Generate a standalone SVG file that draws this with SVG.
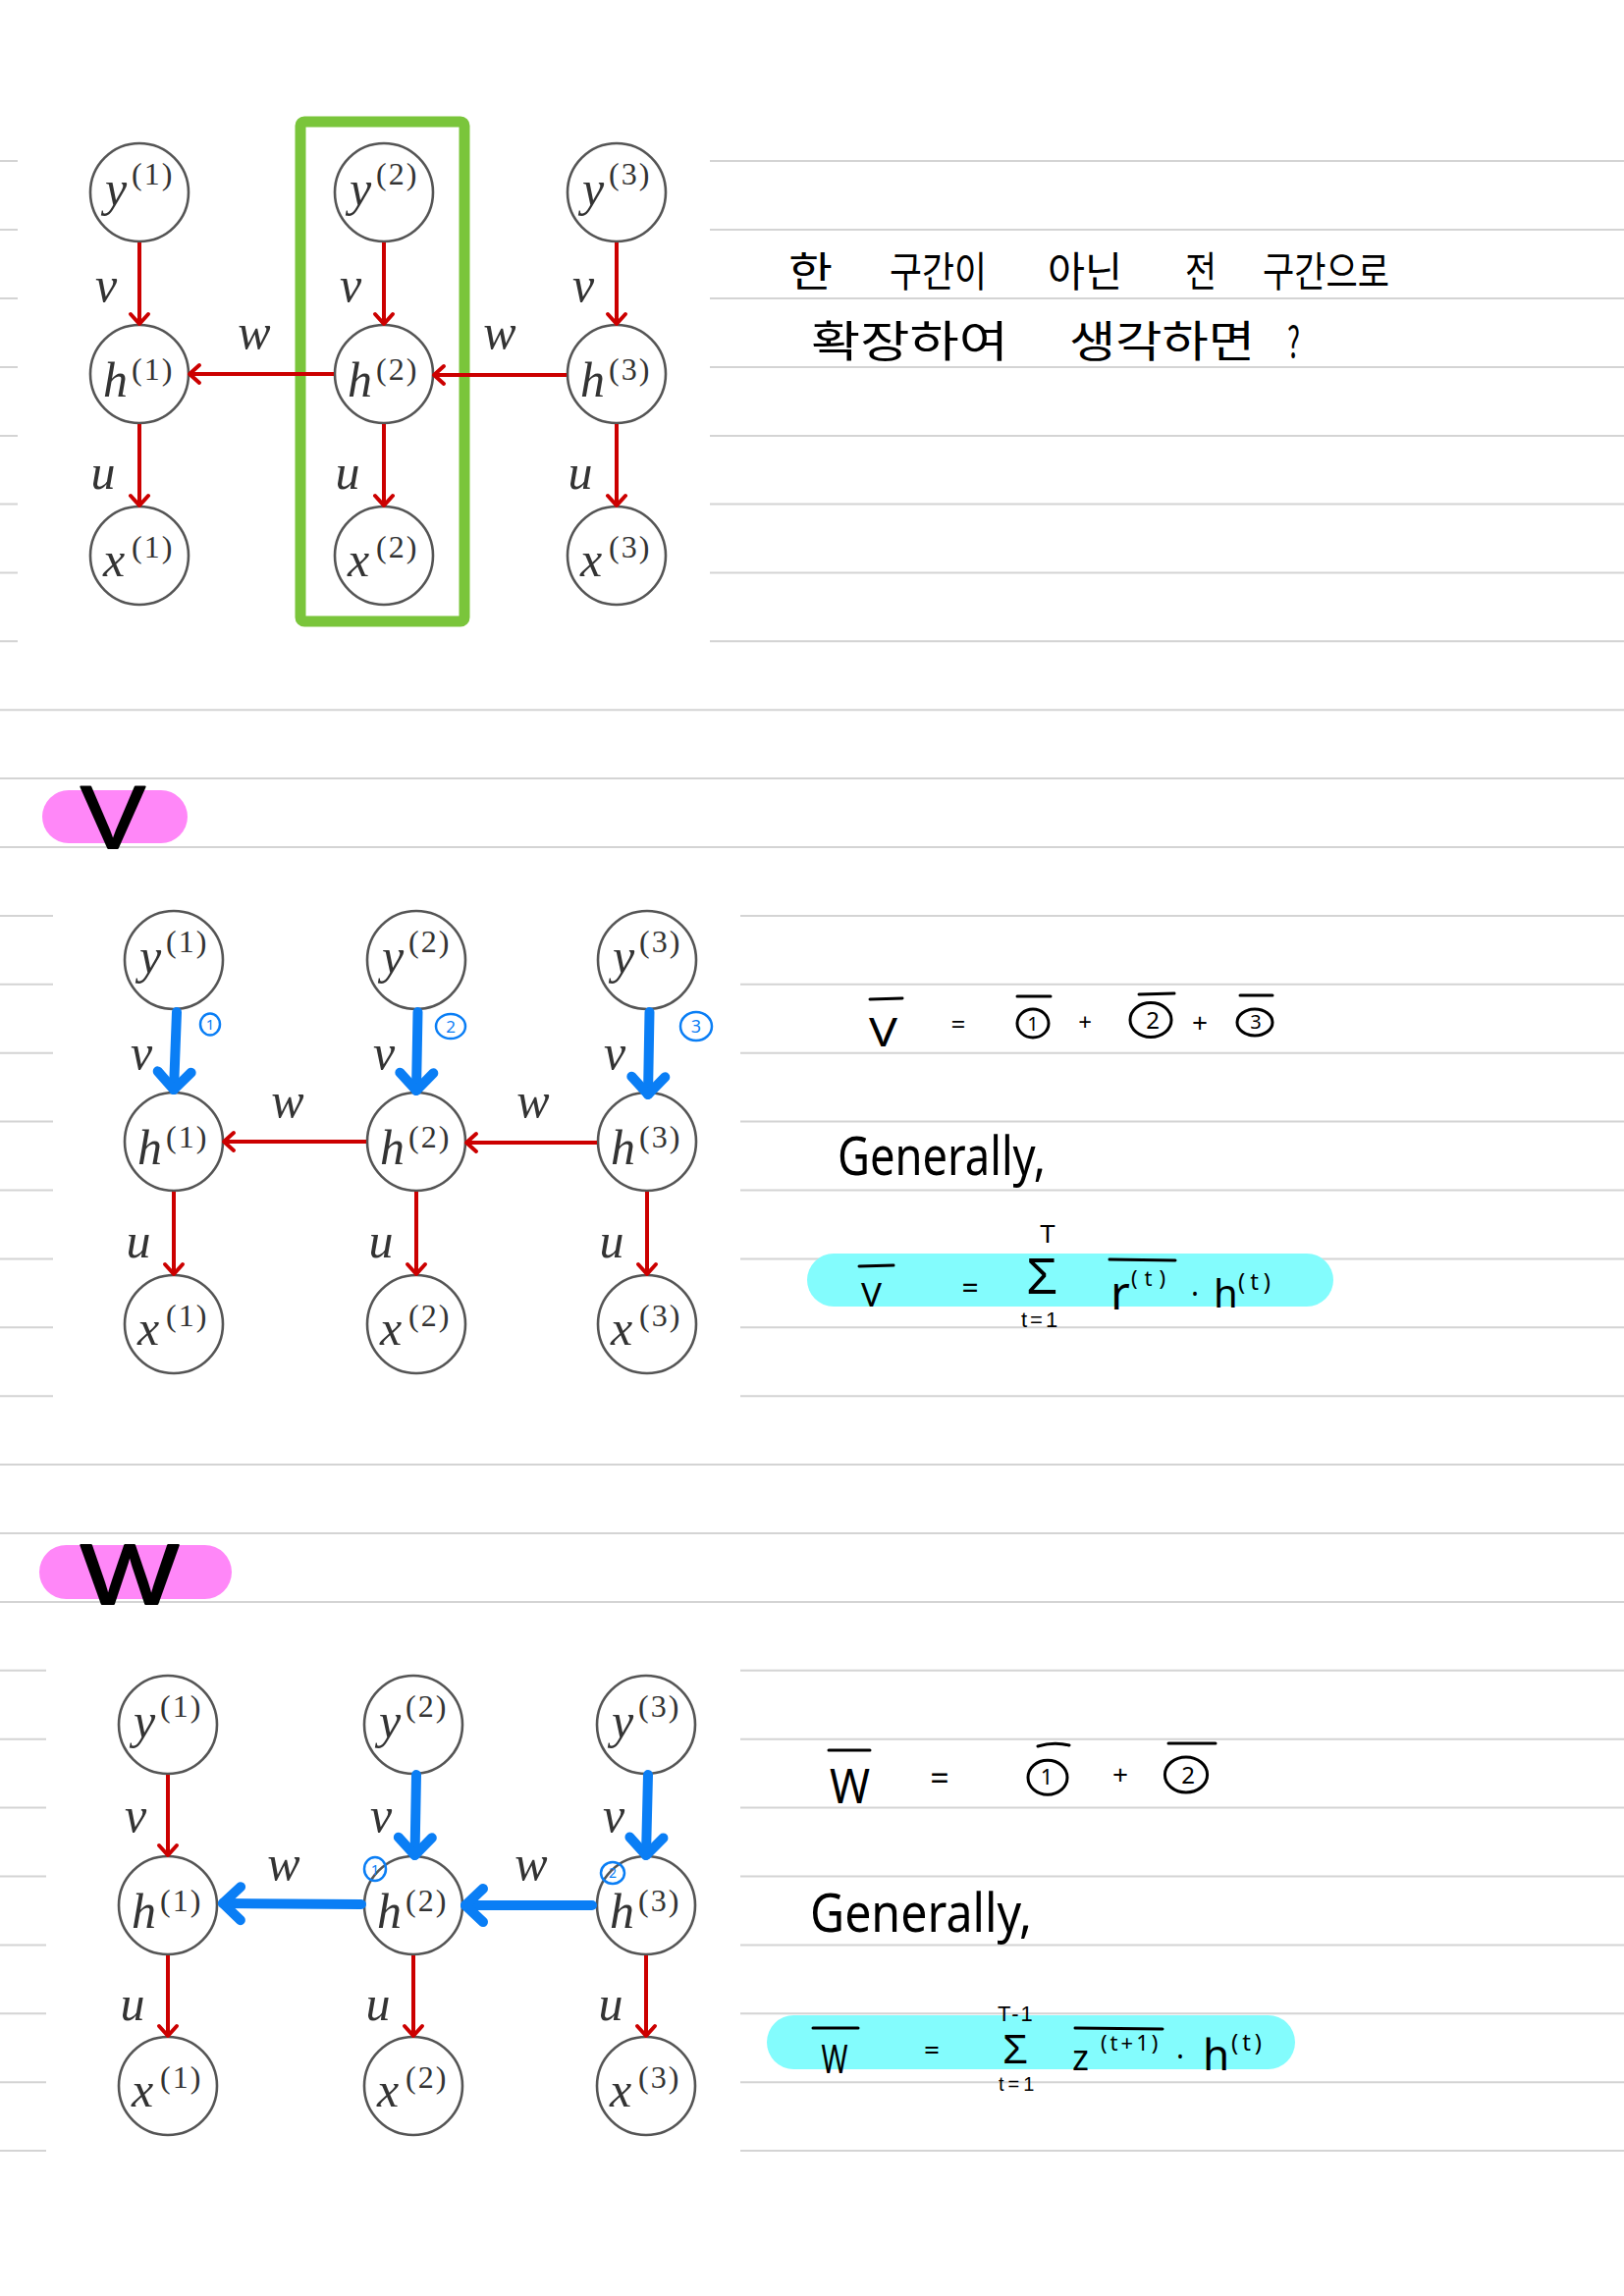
<svg xmlns="http://www.w3.org/2000/svg" width="1654" height="2339" viewBox="0 0 1654 2339">
<style>
.rule{stroke:#d4d4d4;stroke-width:2;fill:none}
.gap{fill:#ffffff}
.nd circle{fill:none;stroke:#555;stroke-width:2.6}
.nd text{font-family:"Liberation Serif",serif;font-style:italic;font-size:50px;fill:#333}
.nd .s{font-style:normal;font-size:32px;letter-spacing:2px}
.lb{font-family:"Liberation Serif",serif;font-style:italic;font-size:50px;fill:#333;text-anchor:middle}
.red{stroke:#cc0000;stroke-width:4;fill:none;marker-end:url(#ar)}
.blue{stroke:#0a7ef5;stroke-width:10;stroke-linecap:round;fill:none;marker-end:url(#ab)}
.bc{fill:none;stroke:#0a7ef5;stroke-width:2.5}
.bd{font-family:"Noto Sans",sans-serif;fill:#0a7ef5;text-anchor:middle}
.kc{fill:none;stroke:#000;stroke-width:3}
.kd{font-family:"Noto Sans",sans-serif;fill:#000;text-anchor:middle}
.bar{stroke:#000;stroke-width:3;stroke-linecap:round;fill:none}
.hw{font-family:"Noto Sans",sans-serif;fill:#000}
.sm{font-family:"Liberation Sans",sans-serif;fill:#000}
.ko{font-family:"Noto Sans CJK KR","Noto Sans",sans-serif;fill:#000}
.big{font-family:"Liberation Sans",sans-serif;fill:#000;stroke:#000;stroke-width:2;stroke-linejoin:round}
</style>
<defs>
<marker id="ar" viewBox="-14 -14 18 28" refX="0" refY="0" markerWidth="18" markerHeight="28" markerUnits="userSpaceOnUse" orient="auto" overflow="visible"><path d="M-10,-9 L0,0 L-10,9" fill="none" stroke="#cc0000" stroke-width="4" stroke-linecap="round" stroke-linejoin="round"/></marker>
<marker id="ab" viewBox="-24 -24 32 48" refX="0" refY="0" markerWidth="32" markerHeight="48" markerUnits="userSpaceOnUse" orient="auto" overflow="visible"><path d="M-18,-17 L0,0 L-18,17" fill="none" stroke="#0a7ef5" stroke-width="10" stroke-linecap="round" stroke-linejoin="round"/></marker>
</defs>
<rect x="0" y="0" width="1654" height="2339" fill="#ffffff"/>
<g id="ruled-lines">
<path class="rule" d="M0,164H1654M0,234H1654M0,304H1654M0,374H1654M0,444H1654M0,513.5H1654M0,583.4H1654M0,653.3H1654M0,723.2H1654M0,793.1H1654M0,863H1654M0,932.9H1654M0,1002.8H1654M0,1072.7H1654M0,1142.6H1654M0,1212.5H1654M0,1282.4H1654M0,1352.3H1654M0,1422.2H1654M0,1492.1H1654M0,1562H1654M0,1631.9H1654M0,1701.8H1654M0,1771.7H1654M0,1841.6H1654M0,1911.5H1654M0,1981.4H1654M0,2051.3H1654M0,2121.2H1654M0,2191.1H1654"/>
<rect class="gap" x="18" y="150" width="705" height="518"/>
<rect class="gap" x="54" y="915" width="700" height="525"/>
<rect class="gap" x="47" y="1685" width="707" height="522"/>
</g>

<g id="diagram-1">
<rect id="highlight-box" x="306" y="124" width="167" height="509" rx="4" fill="none" stroke="#7ac53b" stroke-width="11"/>
<g id="a-y1" class="nd"><circle cx="142" cy="196" r="50"/><text x="107" y="209">y<tspan class="s" x="134" y="188">(1)</tspan></text></g>
<g id="a-h1" class="nd"><circle cx="142" cy="381" r="50"/><text x="105" y="404">h<tspan class="s" x="134" y="387">(1)</tspan></text></g>
<g id="a-x1" class="nd"><circle cx="142" cy="566" r="50"/><text x="105" y="587">x<tspan class="s" x="134" y="568">(1)</tspan></text></g>
<g id="a-y2" class="nd"><circle cx="391" cy="196" r="50"/><text x="356" y="209">y<tspan class="s" x="383" y="188">(2)</tspan></text></g>
<g id="a-h2" class="nd"><circle cx="391" cy="381" r="50"/><text x="354" y="404">h<tspan class="s" x="383" y="387">(2)</tspan></text></g>
<g id="a-x2" class="nd"><circle cx="391" cy="566" r="50"/><text x="354" y="587">x<tspan class="s" x="383" y="568">(2)</tspan></text></g>
<g id="a-y3" class="nd"><circle cx="628" cy="196" r="50"/><text x="593" y="209">y<tspan class="s" x="620" y="188">(3)</tspan></text></g>
<g id="a-h3" class="nd"><circle cx="628" cy="381" r="50"/><text x="591" y="404">h<tspan class="s" x="620" y="387">(3)</tspan></text></g>
<g id="a-x3" class="nd"><circle cx="628" cy="566" r="50"/><text x="591" y="587">x<tspan class="s" x="620" y="568">(3)</tspan></text></g>
</g>

<g id="diagram-2">
<g id="b-y1" class="nd"><circle cx="177" cy="978" r="50"/><text x="142" y="991">y<tspan class="s" x="169" y="970">(1)</tspan></text></g>
<g id="b-h1" class="nd"><circle cx="177" cy="1163" r="50"/><text x="140" y="1186">h<tspan class="s" x="169" y="1169">(1)</tspan></text></g>
<g id="b-x1" class="nd"><circle cx="177" cy="1349" r="50"/><text x="140" y="1370">x<tspan class="s" x="169" y="1351">(1)</tspan></text></g>
<g id="b-y2" class="nd"><circle cx="424" cy="978" r="50"/><text x="389" y="991">y<tspan class="s" x="416" y="970">(2)</tspan></text></g>
<g id="b-h2" class="nd"><circle cx="424" cy="1163" r="50"/><text x="387" y="1186">h<tspan class="s" x="416" y="1169">(2)</tspan></text></g>
<g id="b-x2" class="nd"><circle cx="424" cy="1349" r="50"/><text x="387" y="1370">x<tspan class="s" x="416" y="1351">(2)</tspan></text></g>
<g id="b-y3" class="nd"><circle cx="659" cy="978" r="50"/><text x="624" y="991">y<tspan class="s" x="651" y="970">(3)</tspan></text></g>
<g id="b-h3" class="nd"><circle cx="659" cy="1163" r="50"/><text x="622" y="1186">h<tspan class="s" x="651" y="1169">(3)</tspan></text></g>
<g id="b-x3" class="nd"><circle cx="659" cy="1349" r="50"/><text x="622" y="1370">x<tspan class="s" x="651" y="1351">(3)</tspan></text></g>
</g>

<g id="diagram-3">
<g id="c-y1" class="nd"><circle cx="171" cy="1757" r="50"/><text x="136" y="1770">y<tspan class="s" x="163" y="1749">(1)</tspan></text></g>
<g id="c-h1" class="nd"><circle cx="171" cy="1941" r="50"/><text x="134" y="1964">h<tspan class="s" x="163" y="1947">(1)</tspan></text></g>
<g id="c-x1" class="nd"><circle cx="171" cy="2125" r="50"/><text x="134" y="2146">x<tspan class="s" x="163" y="2127">(1)</tspan></text></g>
<g id="c-y2" class="nd"><circle cx="421" cy="1757" r="50"/><text x="386" y="1770">y<tspan class="s" x="413" y="1749">(2)</tspan></text></g>
<g id="c-h2" class="nd"><circle cx="421" cy="1941" r="50"/><text x="384" y="1964">h<tspan class="s" x="413" y="1947">(2)</tspan></text></g>
<g id="c-x2" class="nd"><circle cx="421" cy="2125" r="50"/><text x="384" y="2146">x<tspan class="s" x="413" y="2127">(2)</tspan></text></g>
<g id="c-y3" class="nd"><circle cx="658" cy="1757" r="50"/><text x="623" y="1770">y<tspan class="s" x="650" y="1749">(3)</tspan></text></g>
<g id="c-h3" class="nd"><circle cx="658" cy="1941" r="50"/><text x="621" y="1964">h<tspan class="s" x="650" y="1947">(3)</tspan></text></g>
<g id="c-x3" class="nd"><circle cx="658" cy="2125" r="50"/><text x="621" y="2146">x<tspan class="s" x="650" y="2127">(3)</tspan></text></g>
</g>

<g id="connectors">
<line class="red" x1="142" y1="247" x2="142" y2="330"/>
<line class="red" x1="391" y1="247" x2="391" y2="330"/>
<line class="red" x1="628" y1="247" x2="628" y2="330"/>
<line class="red" x1="142" y1="432" x2="142" y2="515"/>
<line class="red" x1="391" y1="432" x2="391" y2="515"/>
<line class="red" x1="628" y1="432" x2="628" y2="515"/>
<line class="red" x1="340" y1="381" x2="193" y2="381"/>
<line class="red" x1="577" y1="382" x2="442" y2="382"/>

<line class="red" x1="177" y1="1214" x2="177" y2="1298"/>
<line class="red" x1="424" y1="1214" x2="424" y2="1298"/>
<line class="red" x1="659" y1="1214" x2="659" y2="1298"/>
<line class="red" x1="373" y1="1163" x2="228" y2="1163"/>
<line class="red" x1="608" y1="1164" x2="475" y2="1164"/>
<line class="blue" x1="180" y1="1031" x2="177" y2="1110"/>
<line class="blue" x1="425.5" y1="1031" x2="424" y2="1111"/>
<line class="blue" x1="661.5" y1="1031" x2="660" y2="1115"/>

<line class="red" x1="171" y1="1808" x2="171" y2="1890"/>
<line class="red" x1="171" y1="1992" x2="171" y2="2074"/>
<line class="red" x1="421" y1="1992" x2="421" y2="2074"/>
<line class="red" x1="658" y1="1992" x2="658" y2="2074"/>
<line class="blue" x1="424" y1="1808" x2="422.5" y2="1890"/>
<line class="blue" x1="660" y1="1808" x2="658" y2="1890"/>
<line class="blue" x1="368" y1="1940" x2="227" y2="1939"/>
<line class="blue" x1="603" y1="1941" x2="474" y2="1941"/>
</g>

<g id="edge-labels">
<text class="lb" x="108" y="307">v</text><text class="lb" x="357" y="307">v</text><text class="lb" x="594" y="307">v</text>
<text class="lb" x="259" y="355">w</text><text class="lb" x="509" y="355">w</text>
<text class="lb" x="105" y="498">u</text><text class="lb" x="354" y="498">u</text><text class="lb" x="591" y="498">u</text>

<text class="lb" x="144" y="1089">v</text><text class="lb" x="391" y="1089">v</text><text class="lb" x="626" y="1089">v</text>
<text class="lb" x="293" y="1138">w</text><text class="lb" x="543" y="1138">w</text>
<text class="lb" x="141" y="1281">u</text><text class="lb" x="388" y="1281">u</text><text class="lb" x="623" y="1281">u</text>

<text class="lb" x="138" y="1866">v</text><text class="lb" x="388" y="1866">v</text><text class="lb" x="625" y="1866">v</text>
<text class="lb" x="289" y="1915">w</text><text class="lb" x="541" y="1915">w</text>
<text class="lb" x="135" y="2058">u</text><text class="lb" x="385" y="2058">u</text><text class="lb" x="622" y="2058">u</text>
</g>

<g id="blue-marks">
<ellipse class="bc" cx="214" cy="1043.5" rx="10" ry="11"/><text class="bd" x="214" y="1049" font-size="15">1</text>
<ellipse class="bc" cx="459" cy="1045.5" rx="15" ry="12.5"/><text class="bd" x="459" y="1051.5" font-size="17">2</text>
<ellipse class="bc" cx="709" cy="1045.5" rx="16" ry="14.5"/><text class="bd" x="709" y="1052" font-size="18">3</text>
<ellipse class="bc" cx="382" cy="1904" rx="11" ry="12"/><text class="bd" x="382" y="1909.5" font-size="15">1</text>
<ellipse class="bc" cx="624" cy="1908" rx="12" ry="11"/><text class="bd" x="624" y="1913" font-size="14">2</text>
</g>

<g id="note-korean">
<text class="ko" font-size="42" x="803" y="292" textLength="45" lengthAdjust="spacingAndGlyphs">한</text>
<text class="ko" font-size="42" x="906" y="292" textLength="99" lengthAdjust="spacingAndGlyphs">구간이</text>
<text class="ko" font-size="42" x="1067" y="292" textLength="76" lengthAdjust="spacingAndGlyphs">아닌</text>
<text class="ko" font-size="42" x="1207" y="292" textLength="32" lengthAdjust="spacingAndGlyphs">전</text>
<text class="ko" font-size="42" x="1286" y="292" textLength="129" lengthAdjust="spacingAndGlyphs">구간으로</text>
<text class="ko" font-size="44" x="826" y="364" textLength="201" lengthAdjust="spacingAndGlyphs">확장하여</text>
<text class="ko" font-size="44" x="1089" y="364" textLength="189" lengthAdjust="spacingAndGlyphs">생각하면</text>
<text class="ko" font-size="44" x="1311" y="364" textLength="13" lengthAdjust="spacingAndGlyphs">?</text>
</g>

<g id="header-v">
<rect x="43" y="805" width="148" height="54" rx="27" fill="#ff87f8"/>
<text class="big" x="82" y="864" font-size="90" textLength="66" lengthAdjust="spacingAndGlyphs">V</text>
</g>

<g id="formula-v">
<line class="bar" x1="886" y1="1018" x2="919" y2="1017"/>
<text class="hw" x="885" y="1066" font-size="40" textLength="29" lengthAdjust="spacingAndGlyphs">V</text>
<text class="kd" x="976" y="1053" font-size="26">=</text>
<line class="bar" x1="1036" y1="1015" x2="1070" y2="1015"/>
<ellipse class="kc" cx="1052" cy="1042.5" rx="16" ry="14.5"/><text class="kd" x="1052" y="1050" font-size="20">1</text>
<text class="kd" x="1105" y="1050" font-size="24">+</text>
<line class="bar" x1="1160" y1="1013" x2="1196" y2="1012"/>
<ellipse class="kc" cx="1172" cy="1039" rx="21" ry="17.5"/><text class="kd" x="1174" y="1048" font-size="24">2</text>
<text class="kd" x="1222" y="1052" font-size="28">+</text>
<line class="bar" x1="1263" y1="1014" x2="1296" y2="1014"/>
<ellipse class="kc" cx="1278" cy="1041.5" rx="18" ry="13.5"/><text class="kd" x="1279" y="1048" font-size="20">3</text>

<text class="hw" x="853" y="1197" font-size="54" textLength="212" lengthAdjust="spacingAndGlyphs">Generally,</text>

<rect x="822" y="1277" width="536" height="54" rx="27" fill="#83fcfd"/>
<line class="bar" x1="875" y1="1290" x2="910" y2="1289"/>
<text class="hw" x="877" y="1331" font-size="32" textLength="21" lengthAdjust="spacingAndGlyphs">V</text>
<text class="kd" x="988" y="1323" font-size="30">=</text>
<text class="sm" x="1059" y="1266" font-size="26">T</text>
<text class="sm" x="1045" y="1318" font-size="52">Σ</text>
<text class="sm" x="1040" y="1352" font-size="22" letter-spacing="3">t=1</text>
<line class="bar" x1="1130" y1="1283" x2="1197" y2="1284"/>
<text class="hw" font-size="48"><tspan x="1131" y="1334">r</tspan><tspan x="1152" y="1310" font-size="22" letter-spacing="7">(t)</tspan></text>
<text class="hw" font-size="30"><tspan x="1213" y="1329">·</tspan><tspan x="1236" y="1332" font-size="40">h</tspan><tspan x="1261" y="1314" font-size="24" letter-spacing="5">(t)</tspan></text>
</g>

<g id="header-w">
<rect x="40" y="1574" width="196" height="55" rx="27.5" fill="#ff87f8"/>
<text class="big" x="82" y="1634" font-size="88" textLength="100" lengthAdjust="spacingAndGlyphs">W</text>
</g>

<g id="formula-w">
<line class="bar" x1="844" y1="1783" x2="886" y2="1783"/>
<text class="hw" x="845" y="1837" font-size="50" textLength="41" lengthAdjust="spacingAndGlyphs">W</text>
<text class="kd" x="957" y="1824" font-size="34">=</text>
<path class="bar" d="M1057,1779 Q1073,1774 1089,1778"/>
<ellipse class="kc" cx="1067" cy="1810.7" rx="20" ry="17.5"/><text class="kd" x="1066" y="1818" font-size="22">1</text>
<text class="kd" x="1141" y="1818" font-size="28">+</text>
<line class="bar" x1="1190" y1="1776" x2="1238" y2="1776"/>
<ellipse class="kc" cx="1208" cy="1808" rx="21.6" ry="18"/><text class="kd" x="1210" y="1817" font-size="24">2</text>

<text class="hw" x="825" y="1968" font-size="54" textLength="226" lengthAdjust="spacingAndGlyphs">Generally,</text>

<rect x="781" y="2053" width="538" height="55" rx="27.5" fill="#83fcfd"/>
<line class="bar" x1="828" y1="2066" x2="874" y2="2066"/>
<text class="hw" x="836.5" y="2112" font-size="40" textLength="27" lengthAdjust="spacingAndGlyphs">W</text>
<text class="kd" x="949" y="2098" font-size="28">=</text>
<text class="sm" x="1016" y="2059" font-size="22" letter-spacing="2">T-1</text>
<text class="sm" x="1021" y="2102" font-size="42">Σ</text>
<text class="sm" x="1017" y="2130" font-size="20" letter-spacing="4">t=1</text>
<line class="bar" x1="1095" y1="2066" x2="1184" y2="2067"/>
<text class="hw" font-size="36"><tspan x="1092" y="2109">z</tspan><tspan x="1121" y="2089" font-size="22" letter-spacing="3">(t+1)</tspan></text>
<text class="hw" font-size="30"><tspan x="1198" y="2106">·</tspan><tspan x="1225" y="2109" font-size="44">h</tspan><tspan x="1254" y="2089" font-size="24" letter-spacing="4">(t)</tspan></text>
</g>
</svg>
